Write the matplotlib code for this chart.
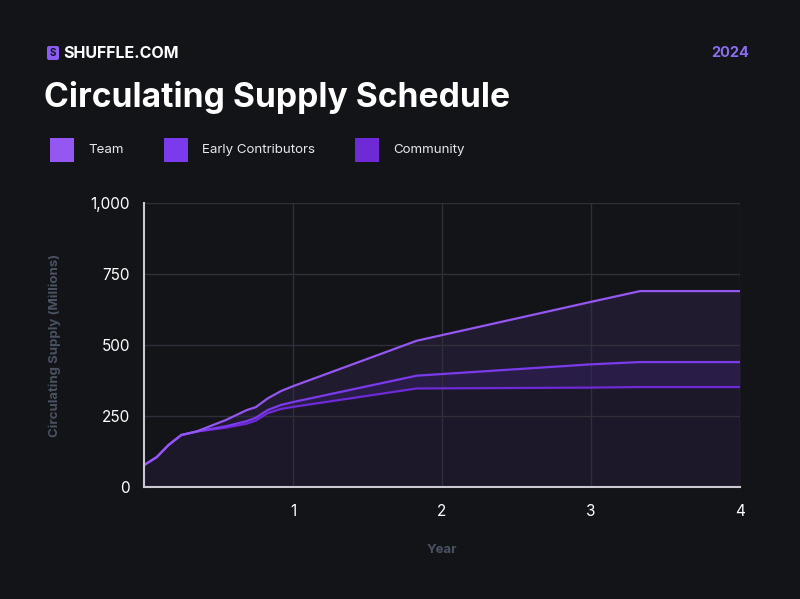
import matplotlib
matplotlib.use("Agg")
import matplotlib.pyplot as plt
from matplotlib.patches import FancyBboxPatch, Rectangle
from matplotlib.ticker import FuncFormatter

plt.rcParams['font.family'] = ['Inter', 'DejaVu Sans']

# ---- data ----
years = [0, 0.085, 0.165, 0.25, 0.35, 0.55, 0.69, 0.75, 0.83, 0.92, 1.0, 1.83, 3.0, 3.33, 4.0]
team = [77, 105, 148, 183, 195, 236, 271, 281, 312, 338, 355, 515, 652, 690, 690]
early_contributors = [77, 105, 148, 183, 195, 214, 232, 244, 271, 289, 299, 392, 432, 440, 440]
community = [77, 105, 148, 183, 195, 209, 223, 234, 260, 275, 282, 347, 350, 352, 352]
series_names = ["Team", "Early Contributors", "Community"]
y_ticks = [0, 250, 500, 750, 1000]
x_ticks = [1, 2, 3, 4]

BG = "#121418"
C_TEAM = "#9457f2"
C_EARLY = "#7c3aed"
C_COMM = "#6d2ad6"

fig = plt.figure(figsize=(8, 5.99), dpi=100, facecolor=BG)
ax = fig.add_axes([0.18, 0.187, 0.745, 0.474])
ax.set_facecolor(BG)

# bands
ax.fill_between(years, 0, community, color="#1c1829", lw=0, zorder=1)
ax.fill_between(years, community, early_contributors, color="#291c46", lw=0, zorder=1)
ax.fill_between(years, early_contributors, team, color="#211b30", lw=0, zorder=1)

ax.plot(years, community, color=C_COMM, lw=1.6, zorder=3, solid_joinstyle='round')
ax.plot(years, early_contributors, color=C_EARLY, lw=1.6, zorder=3, solid_joinstyle='round')
ax.plot(years, team, color=C_TEAM, lw=1.6, zorder=4, solid_joinstyle='round')

ax.set_xlim(0, 4)
ax.set_ylim(0, 1000)
ax.set_xticks(x_ticks)
ax.set_yticks(y_ticks)
ax.yaxis.set_major_formatter(FuncFormatter(lambda v, p: f"{int(v):,}"))
ax.grid(True, color="#2e2f38", lw=1, zorder=2)
ax.set_axisbelow(False)
for s in ["top", "right"]:
    ax.spines[s].set_visible(False)
for s in ["left", "bottom"]:
    ax.spines[s].set_color("#c9c9cf")
    ax.spines[s].set_linewidth(1.5)
    ax.spines[s].set_zorder(5)
ax.tick_params(axis="both", length=0, colors="white", labelsize=11)
ax.tick_params(axis="y", pad=10)
ax.tick_params(axis="x", pad=12)

ax.set_ylabel("Circulating Supply (Millions)", color="#4b5262", fontsize=9.5,
              fontweight="bold", labelpad=21)
ax.set_xlabel("Year", color="#4b5262", fontsize=9.5, fontweight="bold", labelpad=18)

# header
fig.patches.append(FancyBboxPatch((47 / 800, 1 - 60 / 599), 12 / 800, 14 / 599,
                                  boxstyle="round,pad=0,rounding_size=0.003",
                                  transform=fig.transFigure, facecolor="#8a5cf5",
                                  edgecolor="none"))
fig.text(53 / 800, 1 - 53 / 599, "S", color=BG, fontsize=7, fontweight="bold",
         ha="center", va="center")
fig.text(63 / 800, 1 - 53 / 599, "SHUFFLE.COM", color="white", fontsize=11.5,
         fontweight="bold", ha="left", va="center")
fig.text(749 / 800, 1 - 53 / 599, "2024", color="#8b6cf0", fontsize=10.5,
         fontweight="bold", ha="right", va="center")
fig.text(44 / 800, 1 - 98 / 599, "Circulating Supply Schedule", color="white",
         fontsize=24.2, fontweight="bold", ha="left", va="center")

# legend
leg_x = [50, 164, 355]
leg_cols = [C_TEAM, C_EARLY, C_COMM]
for xx, name, c in zip(leg_x, series_names, leg_cols):
    fig.patches.append(Rectangle((xx / 800, 1 - 162 / 599), 24 / 800, 24 / 599,
                                 transform=fig.transFigure, facecolor=c, edgecolor="none"))
    fig.text((xx + 38) / 800, 1 - 150 / 599, name, color="#e8e8ec", fontsize=9.6,
             ha="left", va="center")

fig.savefig("out.png", dpi=100, facecolor=BG)
